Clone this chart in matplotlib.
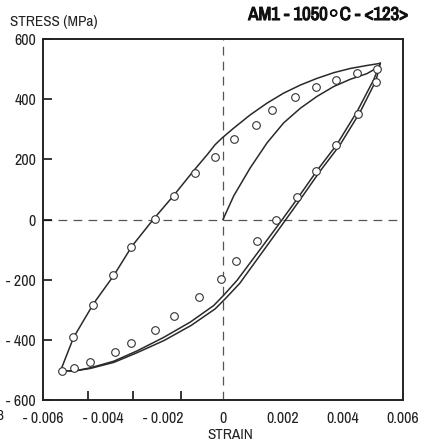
import matplotlib
matplotlib.use('Agg')
import matplotlib.pyplot as plt
from matplotlib import font_manager as fm
from matplotlib import patheffects as pe

# pick a narrow sans if one is there, else the narrowest plain one
names = {f.name for f in fm.fontManager.ttflist}
narrow = [n for n in names if 'Narrow' in n or 'Condensed' in n]
if 'Liberation Sans Narrow' in names:
    main_font = 'Liberation Sans Narrow'
    fs = 11
elif narrow:
    main_font = sorted(narrow)[0]
    fs = 11
elif 'Roboto' in names:
    main_font = 'Roboto'
    fs = 9.5
else:
    main_font = 'Liberation Sans'
    fs = 9.5
plt.rcParams['font.family'] = [main_font, 'DejaVu Sans']

# strain in units of 1e-3, stress in MPa
load_x = [0, 0.36, 0.91, 1.47, 2.02, 2.58, 3.13, 3.69, 4.24, 4.80, 5.20]
load_y = [0, 79, 172, 255, 321, 370, 409, 442, 466, 485, 508]

unload_a_x = [5.24, 5.02, 4.47, 3.80, 3.13, 2.47, 1.91, 1.36, 0.80, 0.47, 0.02,
              -0.31, -1.09, -1.98, -2.87, -3.64, -4.42, -4.98, -5.40]
unload_a_y = [519, 464, 359, 250, 162, 68, -9, -83, -158, -202, -252,
              -286, -341, -392, -437, -471, -493, -504, -502]

unload_b_x = [5.24, 5.10, 4.57, 3.90, 3.23, 2.57, 2.01, 1.46, 0.90, 0.56, 0.08,
              -0.26, -1.06, -1.96, -2.87, -3.64, -4.42, -4.98, -5.40]
unload_b_y = [519, 462, 357, 248, 160, 66, -12, -88, -165, -212, -263,
              -297, -352, -402, -443, -475, -495, -504, -502]

reload_x = [-5.42, -4.98, -4.31, -3.64, -3.03, -2.31, -1.65, -0.98, -0.53, -0.26,
            -0.03, 0.36, 0.91, 1.47, 2.02, 2.58, 3.13, 3.69, 4.24, 4.80, 5.24]
reload_y = [-504, -392, -279, -186, -88, 2, 79, 162, 215, 249,
            271, 304, 348, 387, 420, 447, 469, 488, 502, 512, 519]

sim_x = [-5.37, -5.00, -4.33, -3.67, -3.06, -2.28, -1.62, -0.92, -0.26, 0.37,
         1.10, 1.64, 2.39, 3.10, 3.75, 4.47, 5.13, 5.10, 4.50, 3.78, 3.11,
         2.47, 1.75, 1.14, 0.44, -0.06, -0.80, -1.64, -2.26, -3.06, -3.59,
         -4.42, -4.98]
sim_y = [-504, -392, -283, -186, -90, 3, 79, 153, 209, 268,
         315, 363, 406, 439, 463, 488, 500, 458, 350, 246, 162,
         74, -3, -73, -138, -198, -256, -321, -366, -411, -439,
         -474, -493]

label_ticks = [-0.006, -0.004, -0.002, 0, 0.002, 0.004, 0.006]
label_text = ['- 0.006', '- 0.004', '- 0.002', '0', '0.002', '0.004', '0.006']
mark_ticks = [-0.0045, -0.003, -0.0014, 0.002, 0.004]
yticks = [-600, -400, -200, 0, 200, 400, 600]
ylabels = ['- 600', '- 400', '- 200', '0', '200', '400', '600']

sc = 1e-3
fig = plt.figure(figsize=(4.24, 4.48), dpi=100)
ax = fig.add_axes([43 / 424, 48 / 448, 360 / 424, 361 / 448])
line = dict(color='#2a2a2a', lw=1.1)
ax.plot([v * sc for v in load_x], load_y, **line)
ax.plot([v * sc for v in unload_a_x], unload_a_y, **line)
ax.plot([v * sc for v in unload_b_x], unload_b_y, **line)
ax.plot([v * sc for v in reload_x], reload_y, **line)
ax.plot([v * sc for v in sim_x], sim_y, 'o', ms=5.5, mfc='white', mec='#333333', mew=0.8)

ax.axhline(0, color='#555555', lw=0.9, ls=(0, (7, 5)), zorder=0)
ax.axvline(0, color='#555555', lw=0.9, ls=(0, (7, 5)), zorder=0)

ax.set_xlim(-0.006, 0.006)
ax.set_ylim(-600, 600)
ax.set_xticks(label_ticks)
ax.set_xticklabels(label_text, fontsize=fs + 0.5, color='#222222')
ax.set_xticks(mark_ticks, minor=True)
ax.tick_params(axis='x', which='major', length=0, pad=8)
ax.tick_params(axis='x', which='minor', direction='in', length=6.5, width=1.1)
ax.set_yticks(yticks)
ax.set_yticklabels(ylabels, fontsize=fs + 0.5, color='#222222')
ax.tick_params(axis='y', direction='in', length=6.5, width=1.1, pad=5)
for s in ax.spines.values():
    s.set_linewidth(1.4)
    s.set_color('#222222')

fig.text(230 / 424, 1 - 435 / 448, 'STRAIN', fontsize=fs, va='center', ha='center',
         color='#222222')
fig.text(10 / 424, 1 - 22 / 448, 'STRESS (MPa)', fontsize=fs, va='center', ha='left',
         color='#222222')
fig.text(408 / 424, 1 - 15 / 448, 'AM1 - 1050\u25e6C - <123>', fontsize=fs + 2.5,
         fontweight='bold', va='center', ha='right', color='#111111',
         path_effects=[pe.withStroke(linewidth=0.8, foreground='#111111')])
fig.text(-4 / 424, 1 - 416 / 448, '8', fontsize=fs, va='center', ha='left', color='#222222')

fig.savefig('out.png', dpi=100)
